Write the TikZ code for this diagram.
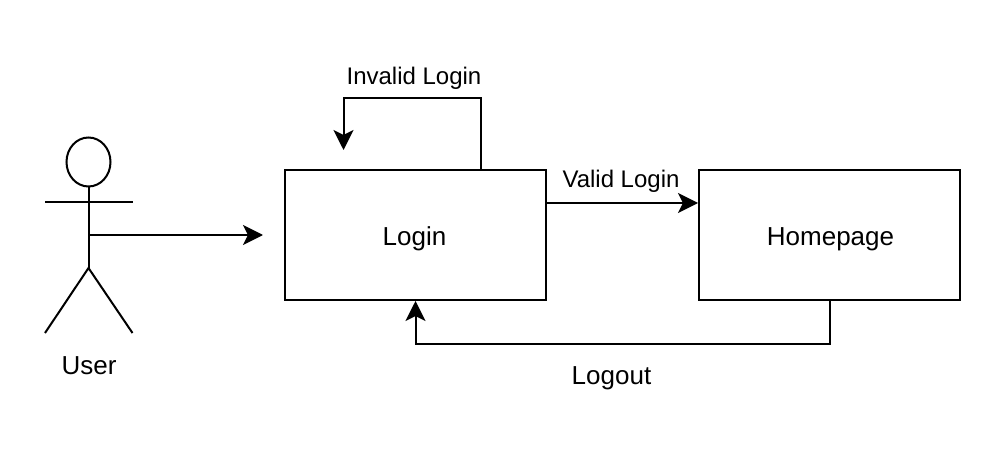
\documentclass[tikz,border=0pt]{standalone}
\usepackage{fontspec}
\setmainfont{Liberation Sans}
\usetikzlibrary{arrows.meta,shapes.geometric}
\begin{document}
\begin{tikzpicture}[x=1pt,y=-1pt,
  line width=2pt,
  boxn/.style={draw=black,line width=2pt,minimum width=261pt,minimum height=130pt,inner sep=0pt},
  biglab/.style={inner sep=0pt,font=\fontsize{26}{30}\selectfont},
  lab/.style={inner sep=0pt,font=\fontsize{24}{28}\selectfont},
  conn/.style={-{Stealth[length=20pt,width=20pt,inset=5pt]},line width=2pt}]
\useasboundingbox (0,0) rectangle (990,470);
\node[boxn] (login) at (415.5,235) {};
\node[boxn] (home) at (829.5,235) {};
\node[biglab] (logintext) at (414.5,239) {Login};
\node[biglab] (hometext) at (830.5,239) {Homepage};
\node[draw=black,ellipse,minimum width=44pt,minimum height=49pt,inner sep=0pt,line width=2pt] (head) at (88.5,162) {};
\coordinate (hip) at (88.5,268);
\coordinate (armL) at (45,202);
\coordinate (armR) at (132.5,202);
\coordinate (footL) at (45,333);
\coordinate (footR) at (132.5,333);
\coordinate (actorOut) at (88.5,235);
\coordinate (actorIn) at (263,235);
\draw (head.south) -- (hip);
\draw (armL) -- (armR);
\draw (footL) -- (hip) -- (footR);
\draw[conn] (actorOut) -- (actorIn);
\coordinate (loopS) at (481,170);
\coordinate (loopE) at (343.5,150);
\draw[conn] (loopS) -- (481,98) -- (343.5,98) -- (loopE);
\draw[conn] (login.east |- 0,203) -- (home.west |- 0,203);
\draw[conn] (home.south) -- (829.5,344) -- (415.5,344) -- (login.south);
\node[biglab] (user) at (89,366) {User};
\node[lab] (invalid) at (414,78.5) {Invalid Login};
\node[lab] (valid) at (621,181) {Valid Login};
\node[biglab] (logout) at (611.5,378) {Logout};
\end{tikzpicture}
\end{document}
